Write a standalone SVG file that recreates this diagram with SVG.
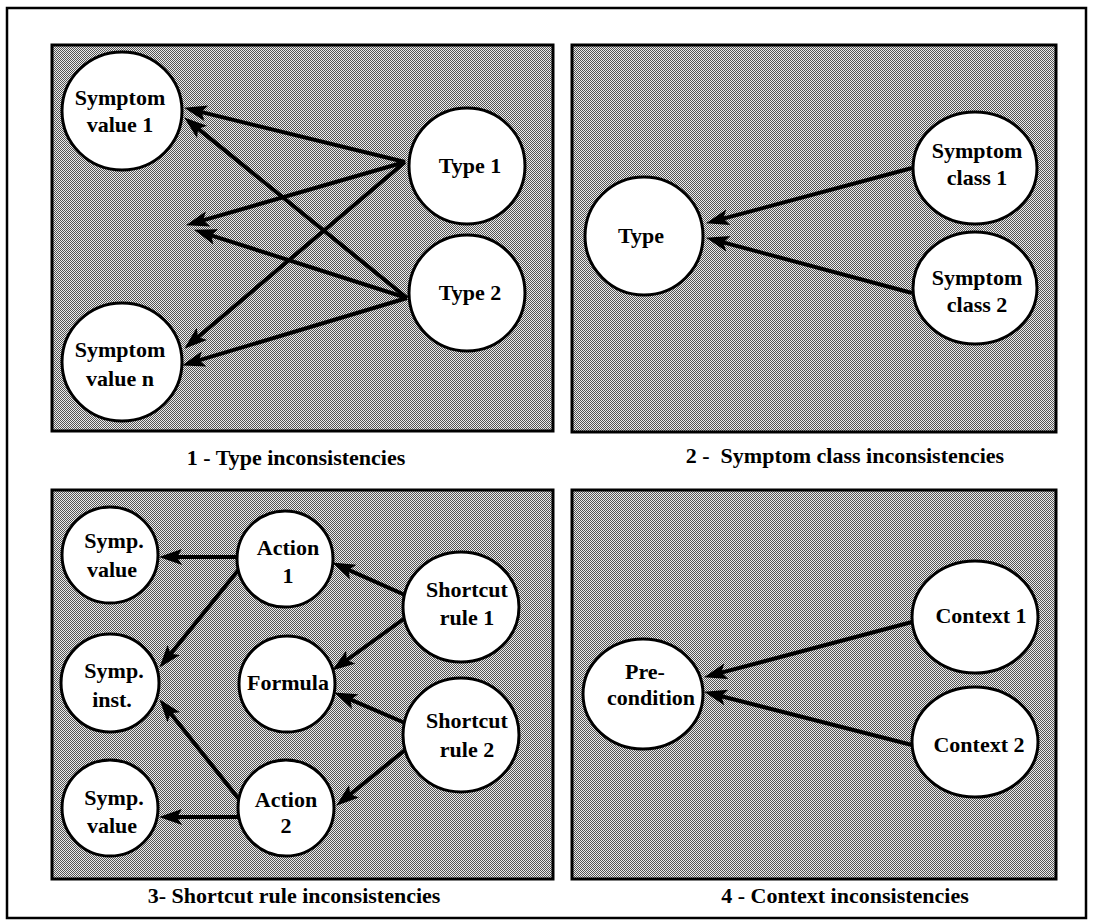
<svg xmlns="http://www.w3.org/2000/svg" width="1093" height="922" viewBox="0 0 1093 922">
<style>
.panel{fill:url(#dither);stroke:#000;stroke-width:3}
.node{fill:#fff;stroke:#000;stroke-width:3}
.lbl{font-family:"Liberation Serif","DejaVu Serif",serif;font-weight:bold;font-size:22px;fill:#000;text-anchor:middle}
.cap{font-family:"Liberation Serif","DejaVu Serif",serif;font-weight:bold;font-size:22px;fill:#000;text-anchor:middle}
.edge{stroke:#000;stroke-width:4;fill:none;marker-end:url(#arrow)}
</style>
<defs>
<pattern id="dither" width="2" height="2" patternUnits="userSpaceOnUse">
<rect width="2" height="2" fill="#ececec"/>
<rect x="0" y="0" width="1" height="1" fill="#555"/>
<rect x="1" y="1" width="1" height="1" fill="#555"/>
</pattern>
<marker id="arrow" markerUnits="userSpaceOnUse" markerWidth="26" markerHeight="18" refX="10" refY="8" orient="auto">
<path d="M0,0 L23,8 L0,16 L5,8 Z" fill="#000"/>
</marker>
</defs>
<rect x="0" y="0" width="1093" height="922" fill="#fff"/>
<rect x="7" y="8" width="1079" height="910" fill="none" stroke="#000" stroke-width="2.5"/>

<g id="panels">
<rect class="panel" x="52" y="45" width="501" height="386"/>
<rect class="panel" x="572" y="45" width="484" height="387"/>
<rect class="panel" x="52" y="490" width="501" height="389"/>
<rect class="panel" x="572" y="490" width="484" height="389"/>
</g>

<g id="connectors">
<line class="edge" x1="405" y1="162" x2="196.7" y2="110.9"/>
<line class="edge" x1="405" y1="162" x2="198.5" y2="221.7"/>
<line class="edge" x1="405" y1="162" x2="194.2" y2="340.3"/>
<line class="edge" x1="407" y1="298" x2="194.3" y2="125.6"/>
<line class="edge" x1="407" y1="298" x2="206.4" y2="233.8"/>
<line class="edge" x1="407" y1="298" x2="194.5" y2="361.7"/>

<line class="edge" x1="912" y1="168" x2="718.6" y2="219.9"/>
<line class="edge" x1="912" y1="293" x2="718.6" y2="241.1"/>

<line class="edge" x1="238" y1="557" x2="172" y2="557"/>
<line class="edge" x1="240" y1="568" x2="167.5" y2="657.7"/>
<line class="edge" x1="405" y1="595" x2="344" y2="567.9"/>
<line class="edge" x1="405" y1="618" x2="342.7" y2="663"/>
<line class="edge" x1="405" y1="723" x2="346" y2="697.7"/>
<line class="edge" x1="405" y1="750" x2="346.3" y2="797.5"/>
<line class="edge" x1="242" y1="803" x2="167.5" y2="709.4"/>
<line class="edge" x1="238" y1="817" x2="172" y2="817"/>

<line class="edge" x1="912" y1="622" x2="716.6" y2="673.9"/>
<line class="edge" x1="912" y1="745" x2="716.6" y2="695"/>
</g>

<g id="n-symptom-value-1"><ellipse class="node" cx="122" cy="111" rx="60" ry="59"/><text class="lbl" x="120" y="105">Symptom</text><text class="lbl" x="120" y="132">value 1</text></g>
<g id="n-symptom-value-n"><ellipse class="node" cx="122" cy="362" rx="60" ry="59"/><text class="lbl" x="120" y="357">Symptom</text><text class="lbl" x="120" y="386">value n</text></g>
<g id="n-type-1"><circle class="node" cx="467" cy="166" r="58"/><text class="lbl" x="470" y="173">Type 1</text></g>
<g id="n-type-2"><circle class="node" cx="467" cy="293" r="58"/><text class="lbl" x="470" y="300">Type 2</text></g>

<g id="n-type"><circle class="node" cx="644" cy="236" r="59"/><text class="lbl" x="641" y="243">Type</text></g>
<g id="n-symptom-class-1"><ellipse class="node" cx="975" cy="168" rx="62" ry="56"/><text class="lbl" x="977" y="158">Symptom</text><text class="lbl" x="977" y="185">class 1</text></g>
<g id="n-symptom-class-2"><ellipse class="node" cx="975" cy="288" rx="62" ry="56"/><text class="lbl" x="977" y="285">Symptom</text><text class="lbl" x="977" y="312">class 2</text></g>

<g id="n-symp-value-top"><circle class="node" cx="110" cy="555" r="48"/><text class="lbl" x="114" y="548">Symp.</text><text class="lbl" x="112" y="577">value</text></g>
<g id="n-action-1"><circle class="node" cx="285" cy="559" r="48"/><text class="lbl" x="288" y="555">Action</text><text class="lbl" x="288" y="583">1</text></g>
<g id="n-shortcut-rule-1"><ellipse class="node" cx="461" cy="607" rx="58" ry="55"/><text class="lbl" x="467" y="597">Shortcut</text><text class="lbl" x="467" y="625">rule 1</text></g>
<g id="n-symp-inst"><circle class="node" cx="110" cy="683" r="49"/><text class="lbl" x="114" y="678">Symp.</text><text class="lbl" x="112" y="707">inst.</text></g>
<g id="n-formula"><circle class="node" cx="287" cy="684" r="48"/><text class="lbl" x="288" y="690">Formula</text></g>
<g id="n-shortcut-rule-2"><ellipse class="node" cx="461" cy="735" rx="58" ry="57"/><text class="lbl" x="467" y="728">Shortcut</text><text class="lbl" x="467" y="757">rule 2</text></g>
<g id="n-symp-value-bottom"><circle class="node" cx="110" cy="808" r="48"/><text class="lbl" x="114" y="805">Symp.</text><text class="lbl" x="112" y="833">value</text></g>
<g id="n-action-2"><circle class="node" cx="286" cy="808" r="48"/><text class="lbl" x="286" y="807">Action</text><text class="lbl" x="286" y="833">2</text></g>

<g id="n-precondition"><ellipse class="node" cx="643" cy="694" rx="60" ry="55"/><text class="lbl" x="645" y="679">Pre-</text><text class="lbl" x="651" y="705">condition</text></g>
<g id="n-context-1"><ellipse class="node" cx="975" cy="617" rx="63" ry="56"/><text class="lbl" x="981" y="623">Context 1</text></g>
<g id="n-context-2"><ellipse class="node" cx="975" cy="742" rx="63" ry="55"/><text class="lbl" x="979" y="752">Context 2</text></g>

<g id="captions">
<text class="cap" x="296" y="465">1 - Type inconsistencies</text>
<text class="cap" x="845" y="463" xml:space="preserve">2 -  Symptom class inconsistencies</text>
<text class="cap" x="294" y="903">3- Shortcut rule inconsistencies</text>
<text class="cap" x="845" y="903">4 - Context inconsistencies</text>
</g>
</svg>
